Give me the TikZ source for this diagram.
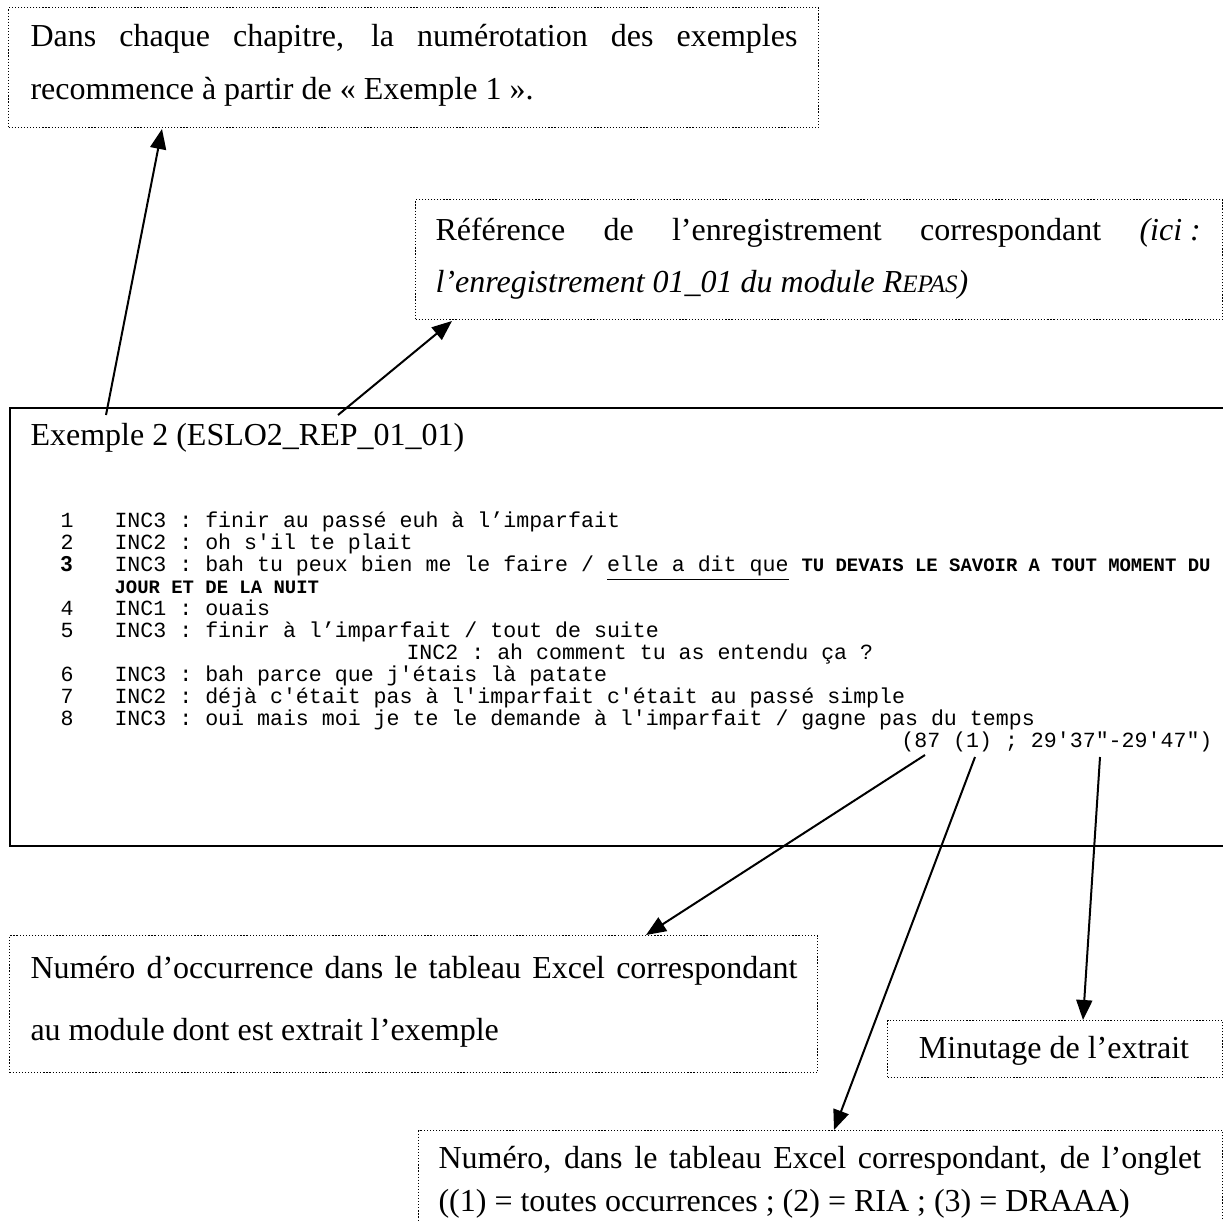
\documentclass[tikz,border=0pt]{standalone}
\usepackage{fontspec}
\setmainfont{Liberation Serif}
\setmonofont{Liberation Mono}
\newfontfamily\arialfont{Liberation Sans}
\usetikzlibrary{arrows.meta}
\tikzset{
  note/.style={draw, line width=0.45pt, dash pattern=on 0.45pt off 0.7pt},
  mainbox/.style={draw, line width=0.8pt},
  ptr/.style={line width=0.75pt, -{Triangle[length=7.5pt,width=6pt]}},
  txt/.style={inner sep=0pt, anchor=base west, font=\fontsize{12pt}{14pt}\selectfont},
  mono/.style={inner sep=0pt, anchor=base west, font=\fontsize{8.1pt}{9pt}\selectfont\ttfamily},
}
\newcommand{\jline}[2]{\makebox[#1][s]{#2}}
\newcommand{\boldcaps}{\fontsize{7.1pt}{8pt}\selectfont\bfseries}
\begin{document}
\begin{tikzpicture}[x=0.375pt,y=-0.375pt]
\useasboundingbox (0,0) rectangle (1223,1220);
% top note
\node[note, inner sep=0pt, anchor=north west, minimum width=810*0.375pt, minimum height=120*0.375pt] (n1) at (8,7) {};
\node[txt] (n1a) at (30,47) {\jline{287.6pt}{Dans chaque chapitre, la numérotation des exemples}};
\node[txt] (n1b) at (30,100) {recommence à partir de « Exemple 1 ».};
% reference note
\node[note, inner sep=0pt, anchor=north west, minimum width=807*0.375pt, minimum height=120*0.375pt] (n2) at (415,199) {};
\node[txt] (n2a) at (435,240) {\jline{287pt}{Référence de l’enregistrement correspondant \mbox{\textit{(ici :}}}};
\node[txt] (n2b) at (435,292) {\textit{l’enregistrement 01\_01 du module R{\fontsize{9.4pt}{10pt}\selectfont EPAS})}};
% main box
\node[mainbox, inner sep=0pt, anchor=north west, minimum width=1240*0.375pt, minimum height=438*0.375pt] (mb) at (9,407) {};
\node[txt] (ex) at (30,445) {Exemple 2 (ESLO2\_REP\_01\_01)};
% transcript
\node[mono] (l1n) at (60,527) {1};
\node[mono] (l1) at (114,527) {INC3 : finir au passé euh à l’imparfait};
\node[mono] (l2n) at (60,549) {2};
\node[mono] (l2) at (114,549) {INC2 : oh s'il te plait};
\node[mono, font=\fontsize{8.1pt}{9pt}\selectfont\arialfont\bfseries] (l3n) at (60,571) {3};
\node[mono] (l3) at (114,571) {INC3 : bah tu peux bien me le faire / \underline{elle a dit que} {\boldcaps TU DEVAIS LE SAVOIR A TOUT MOMENT DU}};
\node[mono] (l3b) at (114,593) {\boldcaps JOUR ET DE LA NUIT};
\node[mono] (l4n) at (60,615) {4};
\node[mono] (l4) at (114,615) {INC1 : ouais};
\node[mono] (l5n) at (60,637) {5};
\node[mono] (l5) at (114,637) {INC3 : finir à l’imparfait / tout de suite};
\node[mono] (l5b) at (406,659) {INC2 : ah comment tu as entendu ça ?};
\node[mono] (l6n) at (60,681) {6};
\node[mono] (l6) at (114,681) {INC3 : bah parce que j'étais là patate};
\node[mono] (l7n) at (60,703) {7};
\node[mono] (l7) at (114,703) {INC2 : déjà c'était pas à l'imparfait c'était au passé simple};
\node[mono] (l8n) at (60,725) {8};
\node[mono] (l8) at (114,725) {INC3 : oui mais moi je te le demande à l'imparfait / gagne pas du temps};
\node[mono, anchor=base east] (ref) at (1213,747) {(87 (1) ; 29'37"-29'47")};
% bottom notes
\node[note, inner sep=0pt, anchor=north west, minimum width=808*0.375pt, minimum height=137*0.375pt] (n3) at (9,935) {};
\node[txt] (n3a) at (30,978) {\jline{287.6pt}{Numéro d’occurrence dans le tableau Excel correspondant}};
\node[txt] (n3b) at (30,1040) {au module dont est extrait l’exemple};
\node[note, inner sep=0pt, anchor=north west, minimum width=335*0.375pt, minimum height=57*0.375pt] (n4) at (887,1020) {};
\node[txt, anchor=base] (n4a) at (1054,1058) {Minutage de l’extrait};
\node[note, inner sep=0pt, anchor=north west, minimum width=804*0.375pt, minimum height=140*0.375pt] (n5) at (418,1130) {};
\node[txt] (n5a) at (438,1168) {\jline{286pt}{Numéro, dans le tableau Excel correspondant, de l’onglet}};
\node[txt] (n5b) at (438,1211) {((1) = toutes occurrences ; (2) = RIA ; (3) = DRAAA)};
% arrows
\coordinate (a1s) at (106,415);
\coordinate (a2s) at (338,415);
\coordinate (a3s) at (925,755);
\coordinate (a4s) at (975,757);
\coordinate (a5s) at (1100,757);
\draw[ptr] (a1s) -- (162,129);
\draw[ptr] (a2s) -- (452,321);
\draw[ptr] (a3s) -- (646,935);
\draw[ptr] (a4s) -- (834,1130);
\draw[ptr] (a5s) -- (1083,1020);
\end{tikzpicture}
\end{document}
